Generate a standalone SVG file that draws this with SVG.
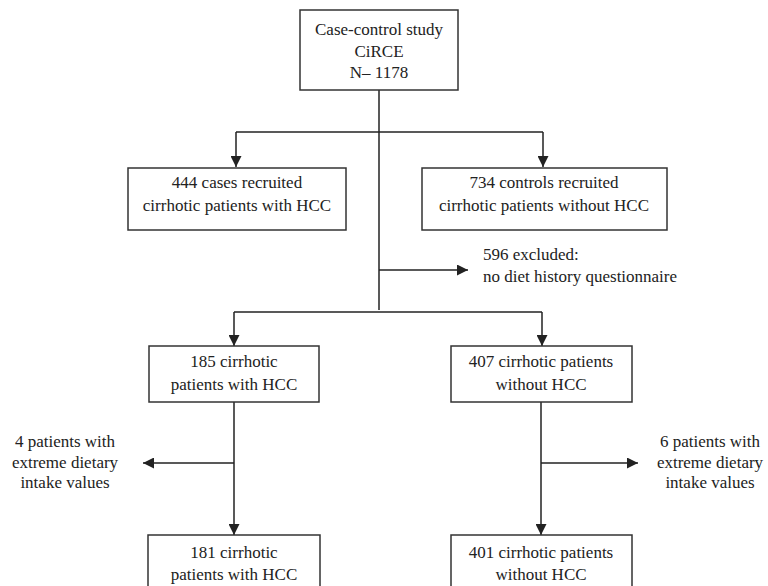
<svg xmlns="http://www.w3.org/2000/svg" width="768" height="586" viewBox="0 0 768 586">
<defs>
<style>
.box{fill:#fff;stroke:#333;stroke-width:1.5}
.ln{fill:none;stroke:#222;stroke-width:1.5}
.t{font-family:'Liberation Serif','Times New Roman','DejaVu Serif',serif;font-size:17px;fill:#222;text-anchor:middle}
.l{text-anchor:start}
</style>
<marker id="ah" viewBox="0 0 10 10" refX="10" refY="5" markerWidth="11" markerHeight="11" markerUnits="userSpaceOnUse" orient="auto">
<path d="M0,0 L10,5 L0,10 z" fill="#222"/>
</marker>
</defs>
<rect width="768" height="586" fill="#fff"/>
<g id="connectors">
<path class="ln" d="M379,90 V310"/>
<path class="ln" d="M236,132 H543"/>
<path class="ln" d="M236,132 V167" marker-end="url(#ah)"/>
<path class="ln" d="M543,132 V167" marker-end="url(#ah)"/>
<path class="ln" d="M379,270 H468" marker-end="url(#ah)"/>
<path class="ln" d="M234,312 H542"/>
<path class="ln" d="M234,312 V346" marker-end="url(#ah)"/>
<path class="ln" d="M542,312 V346" marker-end="url(#ah)"/>
<path class="ln" d="M234,402 V535" marker-end="url(#ah)"/>
<path class="ln" d="M234,463 H143" marker-end="url(#ah)"/>
<path class="ln" d="M541,402 V535" marker-end="url(#ah)"/>
<path class="ln" d="M541,463 H638" marker-end="url(#ah)"/>
</g>
<g class="t" font-family="Liberation Serif, Times New Roman, serif">
<g id="study">
<rect class="box" x="300" y="10" width="158" height="80"/>
<text x="379" y="35">Case-control study</text>
<text x="379" y="57">CiRCE</text>
<text x="379" y="78">N– 1178</text>
</g>
<g id="cases">
<rect class="box" x="128" y="168" width="218" height="62"/>
<text x="237" y="188">444 cases recruited</text>
<text x="237" y="211">cirrhotic patients with HCC</text>
</g>
<g id="controls">
<rect class="box" x="422" y="168" width="245" height="62"/>
<text x="544" y="188">734 controls recruited</text>
<text x="544" y="211">cirrhotic patients without HCC</text>
</g>
<g id="excluded">
<text class="l" x="483" y="260">596 excluded:</text>
<text class="l" x="483" y="282">no diet history questionnaire</text>
</g>
<g id="hcc185">
<rect class="box" x="149" y="346" width="170" height="56"/>
<text x="234" y="367">185 cirrhotic</text>
<text x="234" y="390">patients with HCC</text>
</g>
<g id="nohcc407">
<rect class="box" x="451" y="346" width="181" height="56"/>
<text x="541" y="367">407 cirrhotic patients</text>
<text x="541" y="390">without HCC</text>
</g>
<g id="extreme4">
<text x="65" y="447">4 patients with</text>
<text x="65" y="468">extreme dietary</text>
<text x="65" y="488">intake values</text>
</g>
<g id="extreme6">
<text x="710" y="447">6 patients with</text>
<text x="710" y="468">extreme dietary</text>
<text x="710" y="488">intake values</text>
</g>
<g id="hcc181">
<rect class="box" x="148" y="535" width="172" height="60"/>
<text x="234" y="558">181 cirrhotic</text>
<text x="234" y="580">patients with HCC</text>
</g>
<g id="nohcc401">
<rect class="box" x="451" y="535" width="181" height="60"/>
<text x="541" y="558">401 cirrhotic patients</text>
<text x="541" y="580">without HCC</text>
</g>
</g>
</svg>
